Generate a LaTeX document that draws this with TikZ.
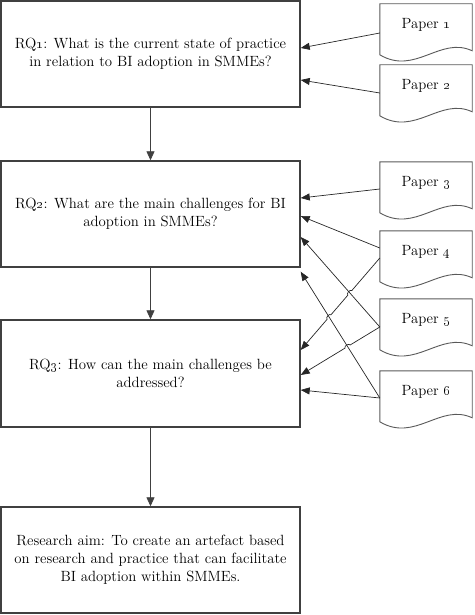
\documentclass[tikz,border=0pt]{standalone}
\usetikzlibrary{arrows.meta,calc,intersections}
\newcommand{\osn}[1]{\oldstylenums{#1}}
\begin{document}
\begin{tikzpicture}[x=1pt,y=-1pt,
  rqbox/.style={draw=black!75, line width=1.4pt, fill=white, align=center,
    minimum width=299pt, font=\fontsize{14.8pt}{18pt}\selectfont, inner sep=0pt},
  paper/.style={minimum width=92pt, minimum height=42pt, inner sep=0pt,
    font=\fontsize{14.8pt}{18pt}\selectfont},
  paperline/.style={draw=black!65, line width=0.9pt},
  conn/.style={draw=black!85, line width=0.7pt, -{Triangle[length=9pt,width=7pt]}},
  flow/.style={draw=black!75, line width=0.8pt, -{Triangle[length=9pt,width=8pt]}}]
\useasboundingbox (0,0) rectangle (474,615);

\node[rqbox, minimum height=106pt] (rq1) at (150.5,54)
  {RQ\osn{1}: What is the current state of practice\\in relation to BI adoption in SMMEs?};
\node[rqbox, minimum height=106pt] (rq2) at (150.5,214)
  {RQ\osn{2}: What are the main challenges for BI\\adoption in SMMEs?};
\node[rqbox, minimum height=107pt] (rq3) at (150.5,373.5)
  {RQ\osn{3}: How can the main challenges be\\addressed?};
\node[rqbox, minimum height=106pt] (aim) at (150.5,560)
  {Research aim: To create an artefact based\\on research and practice that can facilitate\\BI adoption within SMMEs.};

\node[paper] (p1) at (426,25)  {Paper \osn{1}};
\node[paper] (p2) at (426,86)  {Paper \osn{2}};
\node[paper] (p3) at (426,183) {Paper \osn{3}};
\node[paper] (p4) at (426,252) {Paper \osn{4}};
\node[paper] (p5) at (426,320) {Paper \osn{5}};
\node[paper] (p6) at (426,392) {Paper \osn{6}};

\foreach \p in {p1,p2,p3,p4,p5,p6}{
  \draw[paperline] (\p.north west) -- (\p.north east) -- ([yshift=-47pt]\p.north east)
    .. controls ([xshift=-32pt,yshift=-32pt]\p.north east) and ([xshift=-57pt,yshift=-72pt]\p.north east)
    .. ([yshift=-51pt]\p.north west) -- cycle;
}

\draw[flow] (rq1.south) -- (rq2.north);
\draw[flow] (rq2.south) -- (rq3.north);
\draw[flow] (rq3.south) -- (aim.north);

\draw[conn] ([yshift=-8pt]p1.west) -- ([yshift=6pt]rq1.east);
\draw[conn] ([yshift=-7pt]p2.west) -- ([yshift=-26pt]rq1.east);
\draw[conn] ([yshift=-6pt]p3.west) -- ([yshift=16pt]rq2.east);
\draw[conn] ([yshift=4pt]p4.west) -- ([yshift=-2pt]rq2.east);
\draw[conn, name path=B] ([yshift=-7pt]p5.west) -- ([yshift=-23pt]rq2.east);
\draw[conn, name path=C] ([yshift=-6pt]p6.west) -- ([yshift=-4pt]rq2.south east);
\draw[conn] ([yshift=-6pt]p6.west) -- ([yshift=-16.5pt]rq3.east);

\coordinate (a1) at ([yshift=-6pt]p4.west);
\coordinate (a2) at ([yshift=23.5pt]rq3.east);
\coordinate (d1) at ([yshift=-7pt]p5.west);
\coordinate (d2) at ([yshift=-1.5pt]rq3.east);
\path[name path=A] (a1) -- (a2);
\path[name path=D] (d1) -- (d2);
\path[name intersections={of=A and B, by=h1}];
\path[name intersections={of=A and C, by=h2}];
\path[name intersections={of=D and C, by=h3}];

\draw[conn] (a1) -- ($(h1)!3pt!(a1)$) to[bend right=90] ($(h1)!3pt!(a2)$)
  -- ($(h2)!3pt!(a1)$) to[bend right=90] ($(h2)!3pt!(a2)$) -- (a2);
\draw[conn] (d1) -- ($(h3)!3pt!(d1)$) to[bend right=90] ($(h3)!3pt!(d2)$) -- (d2);
\end{tikzpicture}
\end{document}
